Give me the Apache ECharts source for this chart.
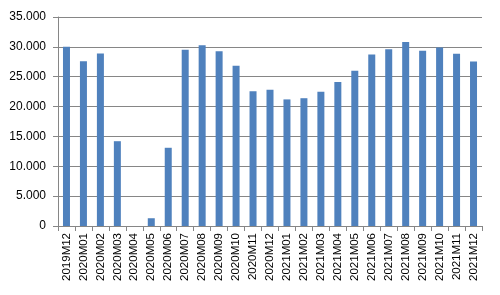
<!DOCTYPE html>
<html><head><meta charset="utf-8">
<script src="https://cdn.jsdelivr.net/npm/echarts@6/dist/echarts.min.js"></script>
<style>html,body{margin:0;padding:0;background:#fff}#c{width:500px;height:295px}</style>
</head><body><div id="c"></div>
<script>
const categories = ["2019M12","2020M01","2020M02","2020M03","2020M04","2020M05","2020M06","2020M07","2020M08","2020M09","2020M10","2020M11","2020M12","2021M01","2021M02","2021M03","2021M04","2021M05","2021M06","2021M07","2021M08","2021M09","2021M10","2021M11","2021M12"];
const values = [30000,27600,28900,14200,0,1300,13100,29500,30250,29250,26850,22550,22800,21200,21400,22500,24100,26000,28700,29600,30800,29350,29900,28850,27550];
const yMin = 0, yMax = 35000, yStep = 5000;
const fmt = v => String(v).replace(/\B(?=(\d{3})+(?!\d))/g, ".");
const chart = echarts.init(document.getElementById('c'), null, {renderer:'canvas'});
chart.setOption({
  animation:false,
  backgroundColor:'#ffffff',
  grid:{left:58,right:18,top:17,bottom:69,containLabel:false},
  xAxis:{type:'category',data:categories,boundaryGap:true,
    axisLine:{lineStyle:{color:'#868686',width:1}},
    axisTick:{show:true,alignWithLabel:false,length:5,lineStyle:{color:'#868686'}},
    axisLabel:{rotate:90,interval:0,fontFamily:'Liberation Sans, Arial',fontSize:11.5,color:'#000',margin:7}},
  yAxis:{type:'value',min:yMin,max:yMax,interval:yStep,
    axisLine:{show:true,lineStyle:{color:'#868686'}},
    axisTick:{show:true,length:5,lineStyle:{color:'#868686'}},
    splitLine:{lineStyle:{color:'#868686',width:1}},
    axisLabel:{formatter:fmt,fontFamily:'Liberation Sans, Arial',fontSize:12,color:'#000',margin:12}},
  series:[{type:'bar',data:values,barWidth:7,itemStyle:{color:'#4F81BD'}}]
});
</script></body></html>
